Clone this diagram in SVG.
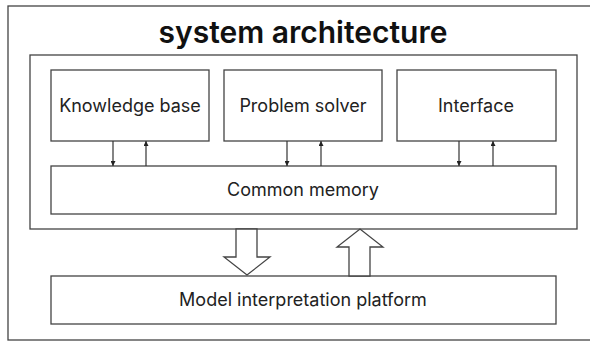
<svg xmlns="http://www.w3.org/2000/svg" width="590" height="341" viewBox="0 0 590 341">
<style>
.box{fill:#fff;stroke:#444;stroke-width:1.3}
.lbl{font-family:Inter,"Liberation Sans",sans-serif;font-size:18px;fill:#222;text-anchor:middle}
.title{font-family:Inter,"Liberation Sans",sans-serif;font-size:30px;font-weight:600;fill:#111;text-anchor:middle}
.conn{stroke:#333;stroke-width:1.2;fill:none}
.big{fill:#fff;stroke:#444;stroke-width:1.3;stroke-linejoin:miter}
</style>
<defs>
<marker id="ah" viewBox="0 0 8 8" refX="8" refY="4" markerWidth="5" markerHeight="5" orient="auto" markerUnits="userSpaceOnUse">
<path d="M0,0 L8,4 L0,8 Z" fill="#222"/>
</marker>
</defs>
<rect width="590" height="341" fill="#fff"/>
<g id="frame">
<rect class="box" x="8" y="6" width="600" height="334"/>
<text class="title" x="303" y="43">system architecture</text>
</g>
<g id="system">
<rect class="box" x="30" y="55" width="547" height="174"/>
</g>
<g id="knowledge-base">
<rect class="box" x="51" y="70" width="158" height="71"/>
<text class="lbl" x="130" y="112">Knowledge base</text>
</g>
<g id="problem-solver">
<rect class="box" x="224" y="70" width="158" height="71"/>
<text class="lbl" x="303" y="112">Problem solver</text>
</g>
<g id="interface">
<rect class="box" x="397" y="70" width="159" height="71"/>
<text class="lbl" x="476" y="112">Interface</text>
</g>
<g id="common-memory">
<rect class="box" x="51" y="166" width="505" height="48"/>
<text class="lbl" x="303" y="196">Common memory</text>
</g>
<g id="model-platform">
<rect class="box" x="51" y="276" width="505" height="48"/>
<text class="lbl" x="303" y="306">Model interpretation platform</text>
</g>
<g id="connectors">
<line class="conn" x1="113" y1="141" x2="113" y2="166" marker-end="url(#ah)"/>
<line class="conn" x1="146" y1="166" x2="146" y2="141" marker-end="url(#ah)"/>
<line class="conn" x1="287" y1="141" x2="287" y2="166" marker-end="url(#ah)"/>
<line class="conn" x1="321" y1="166" x2="321" y2="141" marker-end="url(#ah)"/>
<line class="conn" x1="459" y1="141" x2="459" y2="166" marker-end="url(#ah)"/>
<line class="conn" x1="493" y1="166" x2="493" y2="141" marker-end="url(#ah)"/>
<path class="big" d="M236,229 L257,229 L257,257 L270,257 L247,275 L224,257 L236,257 Z"/>
<path class="big" d="M349,276 L370,276 L370,247 L383,247 L360,229 L337,247 L349,247 Z"/>
</g>
</svg>
